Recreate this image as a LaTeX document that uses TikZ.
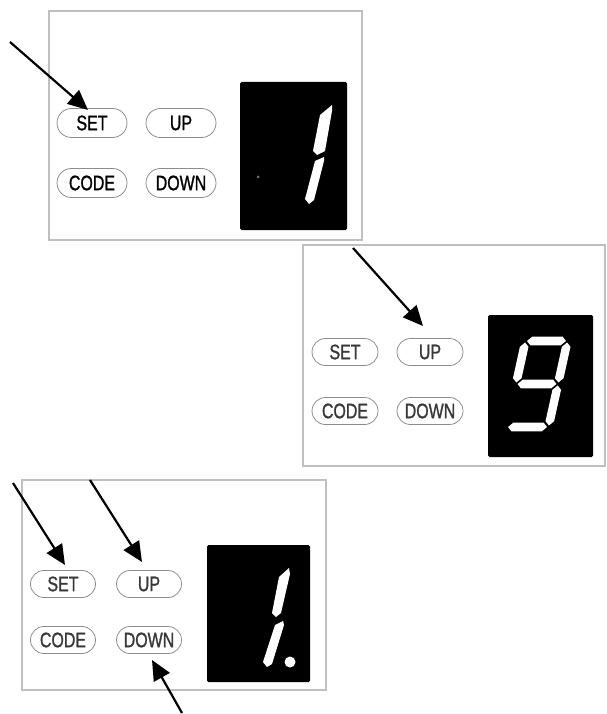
\documentclass[tikz,border=0pt]{standalone}
\usepackage{fontspec}
\newfontfamily\btnfont[FakeStretch=0.76,FakeBold=1.1]{Liberation Sans}
\usetikzlibrary{shapes.misc,arrows.meta}
\tikzset{
 panel/.style={draw=black!25, line width=1.2pt},
 screen/.style={fill=black, rounded corners=1.5pt},
 btn/.style={rounded rectangle, draw=black!45, line width=0.8pt, minimum width=#1, minimum height=27pt, inner sep=0pt, font=\btnfont\fontsize{21}{21}\selectfont, text=black!78},
 btn/.default=66pt,
 ptr/.style={line width=2.2pt, -{Triangle[length=20pt,width=18pt]}},
 segfill/.style={fill=white}
}
\newcommand{\hsegm}[3]{\fill[segfill] ({#1},{#3}) -- ({#1+4.3},{#3-4.3}) -- ({#2-4.3},{#3-4.3}) -- ({#2},{#3}) -- ({#2-4.3},{#3+4.3}) -- ({#1+4.3},{#3+4.3}) -- cycle;}
\newcommand{\vsegm}[3]{\fill[segfill] ({#1},{#2}) -- ({#1+4.3},{#2+4.3}) -- ({#1+4.3},{#3-4.3}) -- ({#1},{#3}) -- ({#1-4.3},{#3-4.3}) -- ({#1-4.3},{#2+4.3}) -- cycle;}
\begin{document}
\begin{tikzpicture}[x=1pt,y=-1pt]
\useasboundingbox (0,0) rectangle (607,714);
% ---------- panel 1
\draw[panel] (49,11) rectangle (362,240);
\fill[screen] (240,82) rectangle (347,230);
\node[btn=70pt, minimum height=29pt, text=black] (set1) at (92,123) {SET};
\node[btn=70pt, minimum height=29pt, text=black] (up1) at (181,123) {UP};
\node[btn=70pt, minimum height=29pt, text=black] (code1) at (92,183) {CODE};
\node[btn=70pt, minimum height=29pt, text=black] (down1) at (181,183) {DOWN};
\fill[segfill] (332,105) -- (320,115) -- (313,151) -- (317,155) -- (325,151) -- (332,111) -- cycle;
\fill[segfill] (324,157) -- (315,161) -- (305,199) -- (309,204) -- (314,200) -- (324,161) -- cycle;
\fill[black!55] (258,177) circle (1.5);
\coordinate (a1s) at (10,42);
\coordinate (a1e) at (88,110);
\draw[ptr] (a1s) -- (a1e);
% ---------- panel 2
\draw[panel] (303,245) rectangle (605,466);
\fill[screen] (488,315) rectangle (593,457);
\node[btn] (set2) at (345,352) {SET};
\node[btn] (up2) at (430,352) {UP};
\node[btn] (code2) at (345,411) {CODE};
\node[btn] (down2) at (430,411) {DOWN};
\begin{scope}[shift={(537,384)}, xslant=0.22]
 \hsegm{-19.5}{19.5}{-43}
 \hsegm{-19.5}{19.5}{0}
 \hsegm{-19.5}{19.5}{43}
 \vsegm{-21}{-41.5}{-1.5}
 \vsegm{21}{-41.5}{-1.5}
 \vsegm{21}{1.5}{41.5}
\end{scope}
\coordinate (a2s) at (353,248);
\coordinate (a2e) at (423,326);
\draw[ptr] (a2s) -- (a2e);
% ---------- panel 3
\draw[panel] (22,480) rectangle (326,690);
\fill[screen] (207,545) rectangle (310,682);
\node[btn=65pt] (set3) at (63,584) {SET};
\node[btn=65pt] (up3) at (149,584) {UP};
\node[btn=65pt] (code3) at (63,640) {CODE};
\node[btn=65pt] (down3) at (149,640) {DOWN};
\fill[segfill] (289,568) -- (279,577) -- (272,613) -- (276,617) -- (281,613) -- (290,574) -- cycle;
\fill[segfill] (283,621) -- (275,625) -- (263,662) -- (267,667) -- (272,664) -- (284,625) -- cycle;
\fill[segfill] (290,662) circle (5.5);
\coordinate (a3s) at (13,483);
\coordinate (a3e) at (65,565);
\coordinate (a4s) at (90,480);
\coordinate (a4e) at (142,562);
\coordinate (a5s) at (182,713);
\coordinate (a5e) at (152,660);
\draw[ptr] (a3s) -- (a3e);
\draw[ptr] (a4s) -- (a4e);
\draw[ptr] (a5s) -- (a5e);
\end{tikzpicture}
\end{document}
